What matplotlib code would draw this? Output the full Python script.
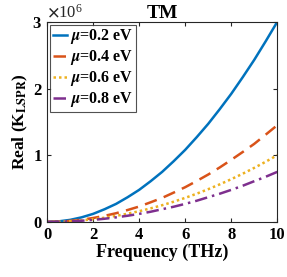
import matplotlib.pyplot as plt
from matplotlib.ticker import ScalarFormatter

# values (K_LSPR real part), 0.5 THz steps
freq = [0, 0.5, 1, 1.5, 2, 2.5, 3, 3.5, 4, 4.5, 5, 5.5, 6, 6.5, 7, 7.5, 8, 8.5, 9, 9.5, 10]
k_02 = [0, 0.0075e6, 0.03e6, 0.068e6, 0.12e6, 0.19e6, 0.27e6, 0.37e6, 0.48e6, 0.61e6,
        0.75e6, 0.91e6, 1.08e6, 1.27e6, 1.47e6, 1.69e6, 1.92e6, 2.17e6, 2.43e6, 2.71e6, 3.0e6]
k_04 = [0, 0.0036e6, 0.0145e6, 0.033e6, 0.058e6, 0.091e6, 0.13e6, 0.178e6, 0.23e6, 0.294e6,
        0.36e6, 0.439e6, 0.52e6, 0.613e6, 0.71e6, 0.816e6, 0.93e6, 1.048e6, 1.17e6, 1.309e6, 1.45e6]
k_06 = [0, 0.0025e6, 0.01e6, 0.0225e6, 0.04e6, 0.0625e6, 0.09e6, 0.1225e6, 0.16e6, 0.2025e6,
        0.25e6, 0.3025e6, 0.36e6, 0.4225e6, 0.49e6, 0.5625e6, 0.64e6, 0.7225e6, 0.81e6, 0.9025e6, 1.0e6]
k_08 = [0, 0.0019e6, 0.0075e6, 0.017e6, 0.03e6, 0.047e6, 0.068e6, 0.092e6, 0.12e6, 0.152e6,
        0.19e6, 0.227e6, 0.27e6, 0.317e6, 0.37e6, 0.422e6, 0.48e6, 0.542e6, 0.61e6, 0.677e6, 0.75e6]
labels = [r'$\mathit{\mu}$=0.2 eV', r'$\mathit{\mu}$=0.4 eV',
          r'$\mathit{\mu}$=0.6 eV', r'$\mathit{\mu}$=0.8 eV']

plt.rcParams['font.family'] = 'Liberation Serif'
plt.rcParams['font.weight'] = 'bold'
plt.rcParams['mathtext.fontset'] = 'stix'

fig = plt.figure(figsize=(2.87, 2.77), dpi=100)
ax = fig.add_axes([0.164, 0.199, 0.802, 0.722])

ax.plot(freq, k_02, color='#0072BD', lw=1.8, ls='-', label=labels[0])
ax.plot(freq, k_04, color='#D95319', lw=1.8, ls=(0, (5, 3)), label=labels[1])
ax.plot(freq, k_06, color='#EDB120', lw=1.8, ls=(0, (1, 1.2)), label=labels[2])
ax.plot(freq, k_08, color='#7E2F8E', lw=1.8, ls=(0, (5, 2, 1, 2)), label=labels[3])

ax.set_xlim(0, 10)
ax.set_ylim(0, 3e6)
ax.set_xticks([0, 2, 4, 6, 8, 10])
ax.set_yticks([0, 1e6, 2e6, 3e6])
fmt = ScalarFormatter(useMathText=True)
fmt.set_powerlimits((0, 0))
ax.yaxis.set_major_formatter(fmt)
ax.yaxis.get_offset_text().set_fontsize(12)
ax.yaxis.get_offset_text().set_fontweight('normal')

ax.tick_params(direction='in', top=True, right=True, labelsize=12, length=3, colors='#262626')
for lab in ax.get_xticklabels() + ax.get_yticklabels():
    lab.set_color('black')
for s in ax.spines.values():
    s.set_color('#262626')
    s.set_linewidth(0.8)

ax.set_title('TM', fontsize=14, fontweight='bold', pad=3)
ax.set_xlabel('Frequency (THz)', fontsize=13, fontweight='bold', labelpad=1)
ax.set_ylabel(r'Real (K$_{\mathbf{LSPR}}$)', fontsize=12.5, fontweight='bold', labelpad=2)

leg = ax.legend(loc='upper left', fontsize=11.5, frameon=True, fancybox=False,
                edgecolor='#262626', handlelength=0.9, handletextpad=0.2,
                borderpad=0.15, labelspacing=0.12, borderaxespad=0.2)
leg.get_frame().set_linewidth(0.8)

fig.savefig('out.png', dpi=100)
